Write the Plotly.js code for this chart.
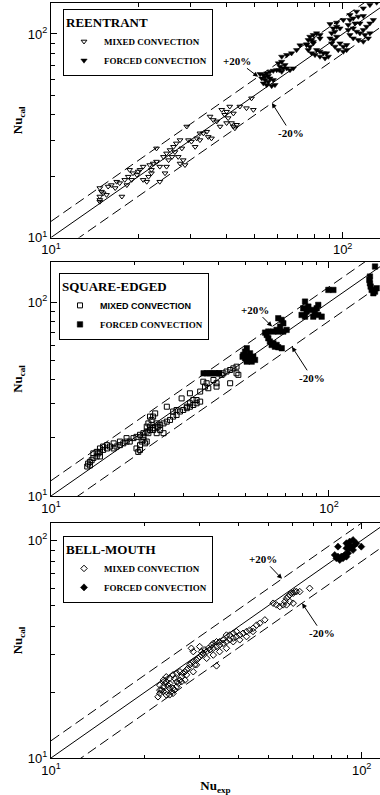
<!DOCTYPE html>
<html>
<head>
<meta charset="utf-8">
<script src="https://cdn.plot.ly/plotly-3.0.1.min.js"></script>
<style>html,body{margin:0;padding:0;background:#fff;}#chart{width:380px;height:795px;}</style>
</head>
<body>
<div id="chart"></div>
<script>
// ---------- data (Nu_exp, Nu_cal) ----------
const reentrantMixedExp = [14.7,14.7,14.9,14.7,15.1,15.5,15.7,16.1,16.6,16.8,17.2,17.5,17.9,18.2,18.4,18.9,19.1,19.7,20.2,20.7,21.3,21.6,21.8,22.1,22.4,23.0,23.6,23.6,24.3,24.6,24.9,25.3,25.6,26.0,26.3,26.6,26.9,27.3,27.7,28.1,28.4,28.8,29.2,29.6,30.3,31.2,31.6,32.4,33.3,34.2,34.6,35.1,35.5,36.0,37.0,38.0,38.5,39.4,40.0,40.5,41.0,41.6,42.2,42.7,43.3,42.2,44.4,46.8,48.7,49.4,27.7,23.0,20.7,19.9,18.6,14.7,22.1,24.9,32.4,40.0];
const reentrantMixedCal = [15.0,15.9,16.8,17.5,16.5,16.2,17.8,18.1,17.5,18.8,18.5,15.9,19.2,18.1,19.9,19.2,20.7,20.3,21.5,22.3,18.8,19.9,22.7,20.7,23.1,23.6,22.3,18.8,24.9,20.7,25.9,24.0,26.9,24.9,27.9,26.3,29.0,24.9,23.1,27.4,24.0,22.7,35.1,30.1,29.6,27.9,30.7,30.1,32.5,33.1,31.2,39.3,30.7,37.8,37.2,35.1,42.4,40.1,41.5,38.6,44.0,36.5,35.1,34.4,35.8,40.7,44.0,43.2,48.3,42.4,30.1,27.4,19.2,21.1,21.5,15.3,21.5,22.3,32.5,36.5];
const reentrantForcedExp = [52.1,53.5,54.9,56.3,57.8,52.8,54.2,55.6,53.5,54.9,57.1,58.6,56.3,57.8,54.2,59.4,55.6,
  60.2,61.8,63.4,61.0,62.6,64.3,66.0,67.7,61.8,60.6,
  61.8,64.3,66.8,69.5,71.4,75.2,79.3,83.6,90.5,95.4,100.5,105.9,111.6,117.7,124.0,130.8,
  77.2,79.3,81.4,83.6,76.2,75.2,76.2,78.3,80.4,83.6,87.0,89.3,77.2,79.3,81.4,83.6,85.9,88.1,78.3,
  92.9,95.4,97.9,91.7,90.5,91.7,94.1,96.6,100.5,103.2,92.9,95.4,97.9,100.5,103.2,94.1,
  105.9,108.7,113.1,117.7,104.5,104.5,105.9,108.7,113.1,117.7,122.4,124.0,108.7,111.6,114.6,117.7,120.8,124.0,127.4,114.6,119.2,110.2];
const reentrantForcedCal = [63.6,62.9,64.1,65.3,66.0,60.5,59.4,58.3,57.2,56.2,55.5,56.2,60.5,59.4,61.7,66.5,62.2,
  71.8,73.1,70.4,69.1,67.8,67.8,66.5,67.8,65.3,66.5,
  77.4,78.9,80.4,83.4,88.0,89.0,91.5,95.0,111.9,113.7,117.2,124.0,128.8,133.7,138.8,142.6,
  97.0,98.9,100.8,98.9,93.4,88.3,83.4,80.4,78.9,77.4,75.9,77.4,86.7,90.0,83.4,81.9,80.4,80.4,93.4,
  106.6,108.6,106.6,100.8,95.2,90.0,86.7,83.4,81.9,83.4,93.4,97.0,90.0,86.7,88.3,102.7,
  117.2,119.4,121.7,122.6,110.7,104.6,98.9,95.2,93.4,91.7,95.2,100.8,106.6,102.7,100.8,104.6,108.6,112.8,117.2,112.8,98.9,112.8];

const squareMixedExp = [13.5,13.6,13.8,14.0,14.2,14.6,14.8,15.0,15.4,15.9,16.3,16.8,17.2,17.7,18.2,18.7,19.2,19.8,20.3,20.9,21.5,22.1,22.7,23.3,24.0,24.7,25.4,26.1,26.8,27.5,28.3,29.1,29.9,30.8,31.6,32.5,33.4,34.4,
  14.2,14.6,15.0,15.4,15.9,16.8,17.7,18.7,15.0,13.8,
  20.3,20.6,20.9,20.9,21.2,21.5,21.5,21.8,22.1,22.4,22.7,23.0,23.3,23.7,24.0,24.3,24.7,25.4,24.0,23.3,22.1,22.4,22.7,26.1,27.5,28.3,29.5,32.5,30.8,31.6,33.4,
  35.3,35.8,36.3,36.8,38.4,39.4,39.4,41.1,41.7,42.8,44.1,44.1,45.3,46.5,46.5,47.2,34.4,31.6];
const squareMixedCal = [14.2,14.7,15.0,15.3,15.7,16.0,16.6,16.9,17.3,17.6,18.0,17.6,18.0,18.3,18.7,19.1,19.1,19.9,20.2,20.7,21.1,21.5,21.9,22.4,22.8,23.3,23.7,24.2,24.7,25.7,26.2,27.3,27.8,28.4,28.9,29.5,30.1,30.7,
  16.6,16.9,17.6,18.0,18.3,18.7,19.1,19.9,16.0,14.4,
  17.6,16.9,17.3,18.3,19.1,19.5,20.2,18.7,19.1,21.1,22.8,24.7,25.7,26.7,23.7,22.8,21.9,21.1,21.1,21.9,22.8,23.7,25.7,28.9,27.3,27.8,31.9,31.3,28.9,30.1,31.3,
  38.9,36.7,38.2,36.0,39.7,38.2,36.7,42.2,43.0,43.9,44.7,38.2,45.6,46.5,43.0,42.2,34.6,33.9];
const squareForcedExp = [35.4,36.3,37.2,38.0,38.9,39.9,40.3,
  50.6,49.9,49.2,49.9,51.3,52.7,54.2,53.4,52.0,51.3,50.6,48.9,
  58.9,60.5,59.7,60.5,61.3,62.2,63.9,65.7,67.6,63.1,64.8,
  65.7,67.6,68.5,66.7,64.8,63.1,65.7,68.5,70.4,
  82.0,80.8,79.7,82.0,83.1,84.3,86.6,89.0,91.5,94.1,87.8,90.3,91.5,
  99.5,103.7,
  140.4,139.7,140.4,141.2,142.4,144.4,146.4,148.4,146.4];
const squareForcedCal = [43.0,43.0,43.0,43.0,43.0,43.0,43.0,
  57.9,55.6,53.5,51.4,50.4,49.4,50.4,52.4,54.5,52.4,49.4,52.4,
  69.7,70.6,67.8,65.2,62.7,60.2,59.0,58.6,57.9,61.4,60.2,
  82.7,81.1,77.9,74.9,72.0,70.6,70.6,70.6,72.0,
  100.8,93.1,86.0,84.3,89.5,95.0,91.3,87.8,86.0,84.3,84.3,93.1,96.9,
  115.8,115.8,
  135.7,130.4,125.3,120.5,115.8,111.3,113.5,118.1,152.9];

const bellMixedExp = [22.1,22.4,22.7,23.0,23.3,23.5,23.8,24.1,24.4,24.7,25.0,25.4,25.7,26.0,26.3,26.6,27.0,27.3,22.4,23.0,23.5,24.1,24.7,25.4,26.0,23.5,24.1,24.7,25.4,23.0,23.5,22.4,24.1,25.0,26.3,27.0,27.3,27.6,28.0,28.3,28.7,29.0,29.4,29.8,30.1,30.5,30.9,31.7,32.5,33.3,34.1,34.9,35.8,36.7,37.6,38.6,39.5,40.5,41.5,42.6,43.6,44.7,45.9,47.0,48.8,
  28.3,28.7,30.1,30.5,31.3,32.1,32.9,33.3,34.1,34.9,35.8,36.7,37.6,38.6,39.5,
  28.7,34.1,29.4,31.7,33.3,34.9,36.7,38.6,40.5,42.6,44.7,
  51.9,53.2,54.5,55.9,56.6,57.3,58.0,58.7,59.4,60.2,60.9,61.7,63.2,58.7,60.2,57.3,68.0];
const bellMixedCal = [19.1,19.8,20.5,21.3,22.0,22.4,21.6,20.9,20.2,19.8,20.5,21.3,22.0,22.8,23.6,24.5,24.9,25.4,21.6,22.8,23.6,23.2,24.1,24.5,24.9,20.2,19.5,20.9,22.4,20.2,19.5,20.5,22.0,23.2,22.4,22.8,24.1,25.8,26.8,27.2,27.7,26.8,28.2,28.7,29.2,29.7,30.3,30.8,31.4,31.9,32.5,33.0,33.6,34.2,34.9,35.5,36.1,36.7,37.4,38.1,38.7,39.4,40.8,41.6,43.1,
  31.9,30.8,32.5,30.8,31.4,31.9,33.0,33.6,34.2,34.2,34.9,36.7,36.7,37.4,38.1,
  24.9,26.5,26.8,28.7,29.7,30.8,31.9,34.2,34.9,36.1,38.1,
  51.4,50.5,49.6,50.5,52.3,54.1,55.1,56.1,57.1,57.1,58.1,58.1,58.1,52.3,51.4,50.5,60.2];
const bellForcedExp = [83.9,81.9,82.9,85.0,87.1,89.3,90.4,88.2,83.9,86.0,89.3,91.5,93.8,90.4,92.6,94.9,96.1,99.7,93.8,91.5,89.3];
const bellForcedCal = [93.5,85.6,82.7,81.2,82.7,84.1,87.2,85.6,84.1,84.1,96.9,98.6,100.3,95.2,93.5,95.2,96.9,93.5,90.3,91.9,91.9];

// tick values / labels
const majorTicks = [10, 100];
const majorLabels = ['10<sup>1</sup>', '10<sup>2</sup>'];
const minorTicks = [20,30,40,50,60,70,80,90];
// reference lines: ratio of Nu_cal to Nu_exp
const guideRatios = [1, 1.2, 0.8];
const guideDash = ['solid', '10px,5px', '10px,5px'];

const panels = [
  {name:'REENTRANT', mx:reentrantMixedExp, my:reentrantMixedCal, fx:reentrantForcedExp, fy:reentrantForcedCal,
   sym:'triangle-down', xr:[1,2.128], yr:[1,2.152], dom:[0.6894,1], leg:{x:0.0365,y:0.992},
   mixedName:'MIXED CONVECTION',
   ann:[{t:'+20%', x:51.3, y:61.6, ax:-21, ay:-16},{t:'-20%', x:57.2, y:45.8, ax:19, ay:30}]},
  {name:'SQUARE-EDGED', mx:squareMixedExp, my:squareMixedCal, fx:squareForcedExp, fy:squareForcedCal,
   sym:'square', xr:[1,2.1835], yr:[1,2.208], dom:[0.347,0.657], leg:{x:0.0243,y:0.6424},
   mixedName:'<span style="font-family:\'Liberation Sans\',Arial">MIXED CONVECTION</span>',
   ann:[{t:'+20%', x:62.4, y:74.9, ax:-17, ay:-17},{t:'-20%', x:73.6, y:58.9, ax:20, ay:31}]},
  {name:'BELL-MOUTH', mx:bellMixedExp, my:bellMixedCal, fx:bellForcedExp, fy:bellForcedCal,
   sym:'diamond', xr:[1,2.059], yr:[1,2.0795], dom:[0,0.3113], leg:{x:0.0365,y:0.294},
   mixedName:'MIXED CONVECTION',
   ann:[{t:'+20%', x:55.4, y:66.5, ax:-19, ay:-20},{t:'-20%', x:64.3, y:51.4, ax:20, ay:30}]}
];

const serif = 'Liberation Serif, Times New Roman, serif';
const sans = 'Liberation Sans, Arial, sans-serif';

const traces = [];
const layout = {
  width:380, height:795,
  margin:{l:51, r:0, t:3, b:37},
  paper_bgcolor:'white', plot_bgcolor:'white',
  font:{family:sans, size:13, color:'black'},
  showlegend:true,
  annotations:[]
};

panels.forEach((p, i) => {
  const n = i === 0 ? '' : String(i+1);
  const xa = 'x' + n, ya = 'y' + n;
  const legId = 'legend' + n;
  const xmax = Math.pow(10, p.xr[1]);
  guideRatios.forEach((r, k) => {
    traces.push({type:'scatter', mode:'lines', x:[10, xmax], y:[10*r, xmax*r],
      xaxis:xa, yaxis:ya, line:{color:'black', width:1, dash:guideDash[k]},
      showlegend:false, hoverinfo:'skip'});
  });
  traces.push({type:'scatter', mode:'markers', x:p.mx, y:p.my, xaxis:xa, yaxis:ya,
    name:p.mixedName, legend:legId, cliponaxis:true,
    marker:{symbol:p.sym+'-open', size:5, color:'black', line:{color:'black', width:1}}});
  traces.push({type:'scatter', mode:'markers', x:p.fx, y:p.fy, xaxis:xa, yaxis:ya,
    name:'FORCED CONVECTION', legend:legId, cliponaxis:true,
    marker:{symbol:p.sym, size:5.5, color:'black', line:{color:'black', width:0.5}}});

  const common = {type:'log', showgrid:false, zeroline:false, showline:true, linecolor:'black', linewidth:1,
    ticks:'inside', ticklen:6, tickwidth:1, tickcolor:'black',
    tickmode:'array', tickvals:majorTicks, ticktext:majorLabels,
    tickfont:{family:sans, size:13, color:'black'},
    minor:{ticks:'inside', ticklen:3.5, tickwidth:1, tickcolor:'black', tickmode:'array', tickvals:minorTicks, showgrid:false}};
  layout['xaxis'+n] = Object.assign({}, common, {domain:[0,1], range:p.xr, anchor:ya, mirror:'ticks'});
  layout['yaxis'+n] = Object.assign({}, common, {domain:p.dom, range:p.yr, anchor:xa, mirror:false,
    title:{text:'Nu<sub>cal</sub>', standoff:2, font:{family:serif, size:13, weight:'bold', color:'black'}}});
  if (i === 2) {
    layout['xaxis'+n].title = {text:'Nu<sub>exp</sub>', standoff:4, font:{family:serif, size:13, weight:'bold', color:'black'}};
  }
  layout[legId] = {x:p.leg.x, y:p.leg.y, xref:'paper', yref:'paper', xanchor:'left', yanchor:'top',
    bgcolor:'white', bordercolor:'black', borderwidth:1,
    title:{text:p.name, font:{family:serif, size:13, weight:'bold', color:'black'}},
    font:{family:serif, size:9, weight:'bold', color:'black'}, tracegroupgap:0, itemwidth:30};
  p.ann.forEach(a => {
    layout.annotations.push({xref:xa, yref:ya, x:Math.log10(a.x), y:Math.log10(a.y), text:a.t,
      showarrow:true, arrowhead:2, arrowsize:1, arrowwidth:1, arrowcolor:'black', ax:a.ax, ay:a.ay,
      font:{family:serif, size:11, weight:'bold', color:'black'}});
  });
});

Plotly.newPlot('chart', traces, layout, {displayModeBar:false, staticPlot:true});
</script>
</body>
</html>
